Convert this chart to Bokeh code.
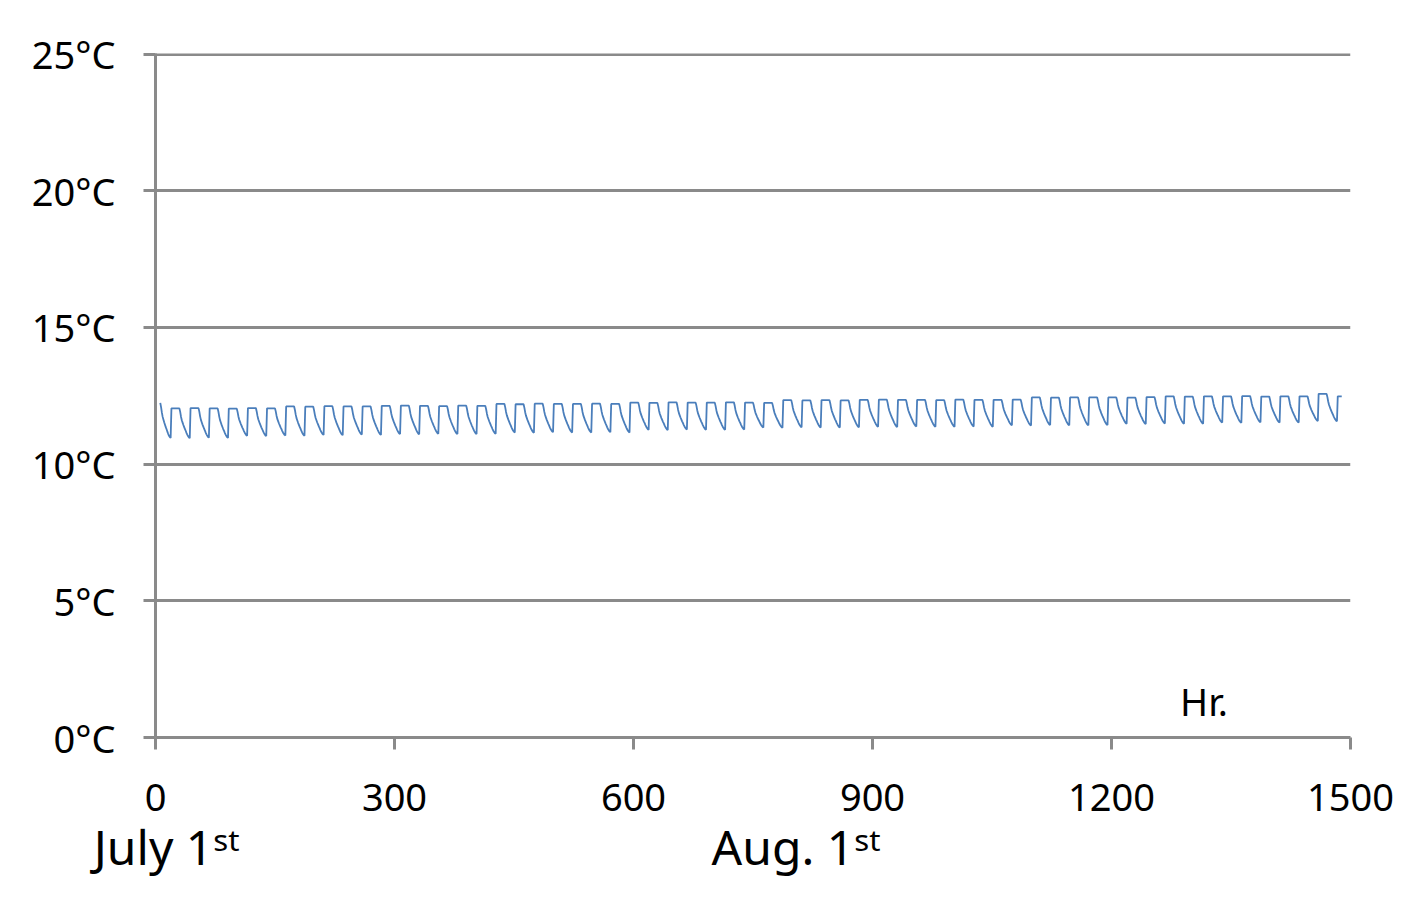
from bokeh.plotting import figure
from bokeh.models import Range1d, FixedTicker, Label, LinearAxis
from bokeh.embed import file_html
from bokeh.resources import INLINE

# ---- data ----
# daily cycle: jump up at hour 24k-4, flat top, then decay to the daily minimum at 24k+19
DAY_MAX = [12.24,
           12.04, 12.05, 12.04, 12.03, 12.05, 12.04,
           12.11, 12.10, 12.12, 12.11, 12.11,
           12.13, 12.14, 12.13, 12.12, 12.14, 12.13,
           12.20, 12.19, 12.21, 12.20, 12.20, 12.21, 12.20,
           12.25, 12.24, 12.26, 12.25, 12.25, 12.26, 12.25, 12.24,
           12.34, 12.33, 12.34, 12.33,
           12.35, 12.36, 12.35, 12.35, 12.34, 12.36, 12.35, 12.35, 12.36,
           12.44, 12.43, 12.44, 12.44,
           12.44, 12.43, 12.45,
           12.48, 12.47, 12.48, 12.48, 12.49, 12.47, 12.48, 12.48,
           12.57,
           12.48]
DAY_MIN = [10.96, 10.95, 10.97, 10.96,
           11.04, 11.03, 11.05, 11.04,
           11.07, 11.06, 11.08, 11.07,
           11.10, 11.09, 11.11, 11.10, 11.10, 11.11,
           11.16, 11.15, 11.17, 11.16, 11.16, 11.17, 11.16,
           11.26, 11.25, 11.27, 11.26, 11.26, 11.27,
           11.34, 11.33, 11.35, 11.34, 11.34, 11.35,
           11.37, 11.36, 11.38, 11.37, 11.37, 11.38, 11.37,
           11.42, 11.41, 11.43, 11.42, 11.42, 11.43,
           11.48, 11.47, 11.49, 11.48, 11.48,
           11.52, 11.51, 11.53, 11.52, 11.52,
           11.58, 11.57]
# fraction of the daily swing, by hour after the upward jump
PROFILE = [1.0, 1.0, 1.0, 1.0, 1.0, 1.0, 1.0, 1.0, 1.0, 1.0, 1.0,
           0.88, 0.72, 0.60, 0.52, 0.44, 0.37, 0.30, 0.24, 0.17, 0.11, 0.06, 0.02, 0.0]
FIRST_HOUR = 6
LAST_HOUR = 1489

Y_TICKS = [0, 5, 10, 15, 20, 25]
Y_LABELS = ["0°C", "5°C", "10°C", "15°C", "20°C", "25°C"]
X_TICKS = [0, 300, 600, 900, 1200, 1500]
DATE_TICKS = [14, 804]
DATE_LABELS = ["July 1ˢᵗ", "Aug. 1ˢᵗ"]

hours, temps = [], []
for k in range(len(DAY_MAX)):
    for off in range(len(PROFILE)):
        h = 24 * k - 4 + off
        if h < FIRST_HOUR or h > LAST_HOUR:
            continue
        mn = DAY_MIN[k] if k < len(DAY_MIN) else DAY_MIN[-1]
        hours.append(h)
        temps.append(mn + PROFILE[off] * (DAY_MAX[k] - mn))

FONT = "Noto Sans"
GRID = "#8a8a8a"

p = figure(width=1411, height=896, output_backend="svg", toolbar_location=None,
           x_range=Range1d(0, 1500), y_range=Range1d(0, 25.02),
           min_border_left=155, min_border_right=61, min_border_top=53, min_border_bottom=159)
p.outline_line_color = None
p.background_fill_color = "white"

p.line(hours, temps, line_color="#4a7ebb", line_width=1.8)

p.xgrid.grid_line_color = None
p.ygrid.grid_line_color = GRID
p.ygrid.grid_line_width = 3
p.ygrid.ticker = FixedTicker(ticks=Y_TICKS)

for ax in (p.xaxis[0], p.yaxis[0]):
    ax.axis_line_color = GRID
    ax.axis_line_width = 3
    ax.major_tick_line_color = GRID
    ax.major_tick_line_width = 3
    ax.major_tick_in = 0
    ax.major_tick_out = 12
    ax.minor_tick_line_color = None
    ax.major_label_text_font = FONT
    ax.major_label_text_font_size = "38px"
    ax.major_label_text_color = "black"

p.yaxis.ticker = FixedTicker(ticks=Y_TICKS)
p.yaxis.major_label_overrides = {t: l for t, l in zip(Y_TICKS, Y_LABELS)}
p.yaxis.major_label_standoff = 28
p.xaxis.ticker = FixedTicker(ticks=X_TICKS)
p.xaxis.major_label_standoff = 34

# second row of x labels: the dates
date_axis = LinearAxis(ticker=FixedTicker(ticks=DATE_TICKS),
                       major_label_overrides={t: l for t, l in zip(DATE_TICKS, DATE_LABELS)},
                       axis_line_color=None, major_tick_line_color=None,
                       minor_tick_line_color=None, major_tick_in=0, major_tick_out=0,
                       major_label_standoff=0, major_label_text_font=FONT,
                       major_label_text_font_size="48px", major_label_text_color="black")
p.add_layout(date_axis, "below")

p.add_layout(Label(x=1286, y=1.35, text="Hr.", text_font=FONT, text_font_size="38px",
                   text_color="black", text_baseline="alphabetic", text_align="left"))

open("out.html", "w").write(file_html(p, INLINE))
